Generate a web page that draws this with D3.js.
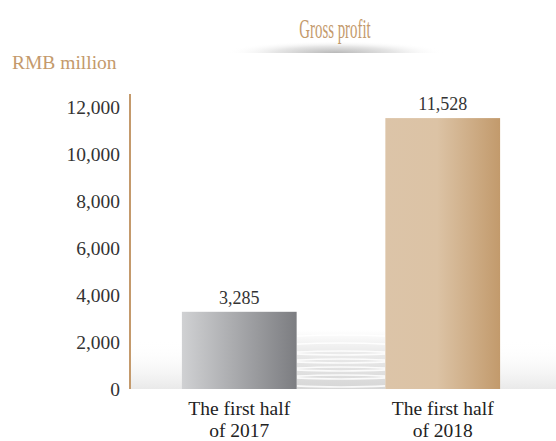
<!DOCTYPE html>
<html>
<head>
<meta charset="utf-8">
<script src="https://cdn.jsdelivr.net/npm/d3@7"></script>
<style>
  body { margin: 0; background: #fff; }
  svg { display: block; }
</style>
</head>
<body>
<div id="chart-container"></div>
<script>
const categories = ["The first half|of 2017", "The first half|of 2018"];
const values = [3285, 11528];
const tickValues = [0, 2000, 4000, 6000, 8000, 10000, 12000];
const title = "Gross profit";
const unitLabel = "RMB million";

const w = 556, h = 441;
const serif = "Liberation Serif, Times New Roman, serif";
const tan = "#c49a6c";

const svg = d3.select('#chart-container')
  .append('svg')
  .attr('width', w)
  .attr('height', h);

const defs = svg.append('defs');

// title shadow
const tg = defs.append('radialGradient').attr('id', 'titleShadow')
  .attr('cx', '50%').attr('cy', '100%').attr('r', '50%')
  .attr('gradientTransform', 'translate(0.5,1) scale(1,0.9) translate(-0.5,-1)');
tg.append('stop').attr('offset', '0%').attr('stop-color', '#b8b8b8');
tg.append('stop').attr('offset', '55%').attr('stop-color', '#e6e6e6');
tg.append('stop').attr('offset', '100%').attr('stop-color', '#fff').attr('stop-opacity', 0);

// floor shadow (vertical fade)
const fg = defs.append('linearGradient').attr('id', 'floorShadow')
  .attr('x1', 0).attr('y1', 0).attr('x2', 0).attr('y2', 1);
fg.append('stop').attr('offset', '0%').attr('stop-color', '#fff').attr('stop-opacity', 0);
fg.append('stop').attr('offset', '100%').attr('stop-color', '#e9e9e9');

const mg = defs.append('linearGradient').attr('id', 'midShadow')
  .attr('x1', 0).attr('y1', 0).attr('x2', 0).attr('y2', 1);
mg.append('stop').attr('offset', '0%').attr('stop-color', '#fff');
mg.append('stop').attr('offset', '35%').attr('stop-color', '#ececec');
mg.append('stop').attr('offset', '100%').attr('stop-color', '#d6d6d6');

const g1 = defs.append('linearGradient').attr('id', 'bar0');
g1.append('stop').attr('offset', '0%').attr('stop-color', '#d0d1d3');
g1.append('stop').attr('offset', '100%').attr('stop-color', '#7c7d81');

const g2 = defs.append('linearGradient').attr('id', 'bar1');
g2.append('stop').attr('offset', '0%').attr('stop-color', '#dcc4a8');
g2.append('stop').attr('offset', '45%').attr('stop-color', '#dcc3a5');
g2.append('stop').attr('offset', '100%').attr('stop-color', '#c29a6c');

const base = 389;
const yScale = d3.scaleLinear()
  .domain([0, 12000])
  .range([base, 107]);

const xScale = d3.scaleBand()
  .domain(categories)
  .range([129, 553])
  .paddingInner(0.436)
  .paddingOuter(0.26);

// title shadow ellipse
svg.append('rect')
  .attr('x', 225).attr('y', 26).attr('width', 220).attr('height', 27)
  .attr('fill', 'url(#titleShadow)');
svg.append('text')
  .attr('x', 335).attr('y', 38)
  .attr('text-anchor', 'middle')
  .style('font-family', serif)
  .attr('font-size', 27)
  .attr('fill', tan)
  .attr('transform', 'translate(335,0) scale(0.55,1) translate(-335,0)')
  .text(title);

svg.append('text')
  .attr('x', 12).attr('y', 69)
  .style('font-family', serif)
  .attr('font-size', 19.5)
  .attr('fill', tan)
  .text(unitLabel);

// floor
svg.append('rect')
  .attr('x', 131).attr('y', 340).attr('width', 425).attr('height', base - 340)
  .attr('fill', 'url(#floorShadow)');

const x0 = xScale(categories[0]) + xScale.bandwidth();
const x1 = xScale(categories[1]);
defs.append('clipPath').attr('id', 'midClip')
  .append('rect').attr('x', x0).attr('y', 320).attr('width', x1 - x0).attr('height', base - 320);
const mid = svg.append('g').attr('clip-path', 'url(#midClip)');
mid.append('rect')
  .attr('x', x0).attr('y', 330).attr('width', x1 - x0).attr('height', base - 330)
  .attr('fill', 'url(#midShadow)');
// stacked disc edges
[0, 1, 2, 3, 4, 5].forEach(i => {
  mid.append('ellipse')
    .attr('cx', (x0 + x1) / 2).attr('cy', 345 + i * 8)
    .attr('rx', 95).attr('ry', 10)
    .attr('fill', 'none')
    .attr('stroke', '#fff')
    .attr('stroke-width', 1.6)
    .attr('opacity', 0.85);
});

// bars
svg.selectAll('rect.bar')
  .data(values)
  .enter()
  .append('rect')
  .attr('class', 'bar')
  .attr('x', (d, i) => xScale(categories[i]))
  .attr('y', d => yScale(d))
  .attr('width', xScale.bandwidth())
  .attr('height', d => base - yScale(d))
  .attr('fill', (d, i) => `url(#bar${i})`);

svg.selectAll('text.val')
  .data(values)
  .enter()
  .append('text')
  .attr('class', 'val')
  .attr('x', (d, i) => xScale(categories[i]) + xScale.bandwidth() / 2)
  .attr('y', d => yScale(d) - 8)
  .attr('text-anchor', 'middle')
  .style('font-family', serif)
  .attr('font-size', 18)
  .attr('fill', '#333')
  .text(d => d3.format(',')(d));

// y axis
const yAxis = d3.axisLeft(yScale).tickValues(tickValues).tickSize(0).tickPadding(10)
  .tickFormat(d3.format(','));
const ya = svg.append('g')
  .attr('transform', 'translate(130,0)')
  .call(yAxis);
ya.select('.domain').remove();
ya.attr('font-family', null);
ya.selectAll('text')
  .style('font-family', serif)
  .attr('font-size', 19.5)
  .attr('fill', '#333')
  .attr('dy', '0.35em');
svg.append('line')
  .attr('x1', 130).attr('x2', 130)
  .attr('y1', 94).attr('y2', base)
  .attr('stroke', tan).attr('stroke-width', 2);

// x labels
categories.forEach(c => {
  const lines = c.split('|');
  const t = svg.append('text')
    .attr('text-anchor', 'middle')
    .style('font-family', serif)
    .attr('font-size', 19.5)
    .attr('fill', '#222');
  lines.forEach((l, j) => {
    t.append('tspan')
      .attr('x', xScale(c) + xScale.bandwidth() / 2)
      .attr('y', 415 + j * 21.5)
      .text(l);
  });
});
</script>
</body>
</html>
